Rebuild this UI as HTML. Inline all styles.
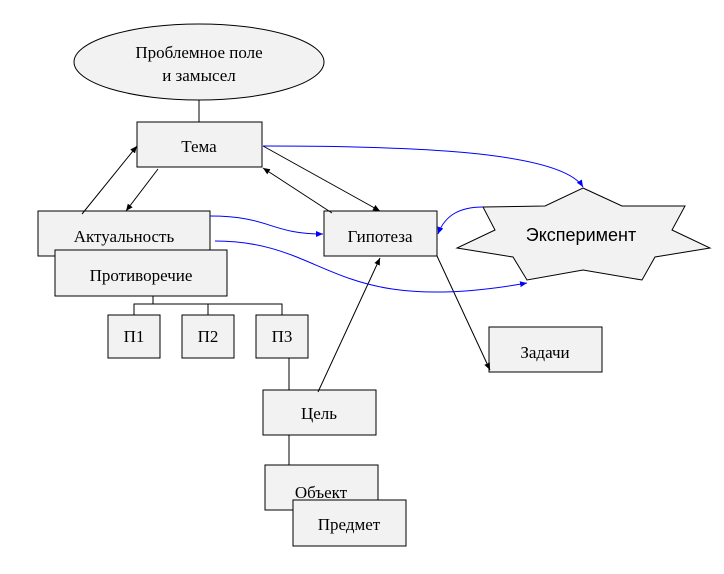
<html><body style="margin:0;background:#fff">
<svg width="724" height="574" xmlns="http://www.w3.org/2000/svg">
<defs>
<marker id="a" markerWidth="8" markerHeight="8" refX="7" refY="3" orient="auto" markerUnits="userSpaceOnUse"><path d="M0,0L7,3L0,6z" fill="#000"/></marker>
<marker id="b" markerWidth="8" markerHeight="8" refX="7" refY="3" orient="auto" markerUnits="userSpaceOnUse"><path d="M0,0L7,3L0,6z" fill="#00f"/></marker>
</defs>
<g stroke="#000" fill="none" stroke-width="1">
<line x1="199" y1="100" x2="199" y2="122"/>
<line x1="153" y1="296" x2="153" y2="304"/>
<path d="M134,315V304H282V315M208,304V315"/>
<line x1="289" y1="358" x2="289" y2="390"/>
<line x1="289" y1="435" x2="289" y2="465"/>
</g>
<g fill="#f2f2f2" stroke="#000">
<ellipse cx="199" cy="62" rx="125" ry="38"/>
<rect x="137" y="122" width="125" height="45"/>
<rect x="38" y="211" width="172" height="45"/>
<rect x="55" y="250" width="172" height="46"/>
<rect x="324" y="211" width="113" height="45"/>
<rect x="108" y="315" width="52" height="43"/>
<rect x="182" y="315" width="52" height="43"/>
<rect x="256" y="315" width="52" height="43"/>
<rect x="489" y="327" width="113" height="45"/>
<rect x="263" y="390" width="113" height="45"/>
<rect x="265" y="465" width="113" height="45"/>
<rect x="293" y="500" width="113" height="46"/>
<polygon points="583,188 622,206 685,206 672,230 710,248 655,257 642,280 583,270 527,280 513,257 457,248 495,230 483,207 545,206"/>
</g>
<g stroke="#000" fill="none" marker-end="url(#a)">
<line x1="82" y1="214" x2="137" y2="146"/>
<line x1="158" y1="169" x2="126" y2="211"/>
<line x1="332" y1="213" x2="263" y2="168"/>
<line x1="263" y1="146" x2="380" y2="211"/>
<line x1="318" y1="392" x2="380" y2="258"/>
<line x1="437" y1="256" x2="490" y2="370"/>
</g>
<g stroke="#00f" fill="none" marker-end="url(#b)">
<path d="M263,146C400,146 560,150 583,187"/>
<path d="M210,216C270,216 270,234 323,234"/>
<path d="M215,241C330,241 330,318 527,283"/>
<path d="M483,207C460,207 445,215 438,234"/>
</g>
<g font-size="17" text-anchor="middle" fill="#000" font-family="Liberation Serif, serif">
<text x="199" y="58">Проблемное поле</text>
<text x="199" y="81">и замысел</text>
<text x="199" y="152">Тема</text>
<text x="124" y="242">Актуальность</text>
<text x="141" y="281">Противоречие</text>
<text x="380" y="242">Гипотеза</text>
<text x="134" y="342">П1</text>
<text x="208" y="342">П2</text>
<text x="282" y="342">П3</text>
<text x="545" y="358">Задачи</text>
<text x="319" y="419">Цель</text>
<text x="321" y="498">Объект</text>
<text x="349" y="530">Предмет</text>
</g>
<text x="581" y="241" font-size="18" text-anchor="middle" font-family="Liberation Sans, sans-serif">Эксперимент</text>
</svg>
</body></html>
